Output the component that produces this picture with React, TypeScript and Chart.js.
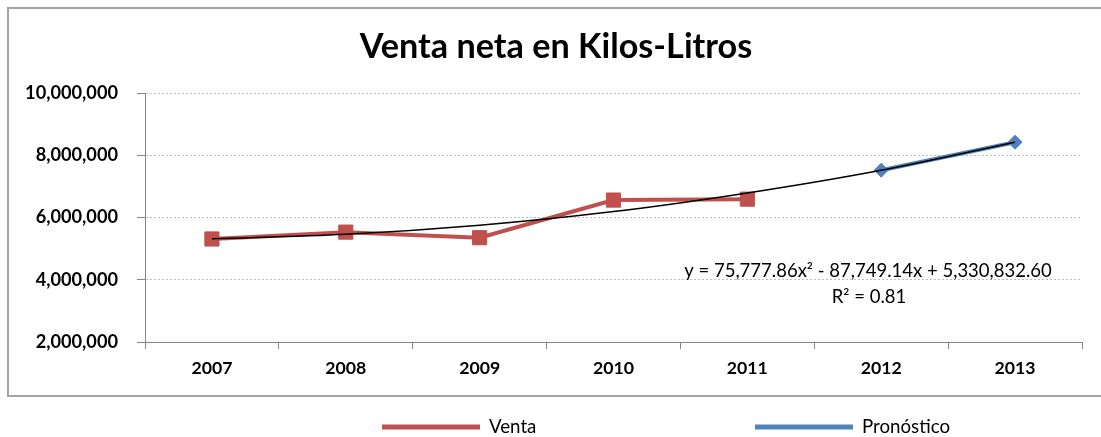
import React, { useEffect, useRef } from 'react';
import { Chart, registerables } from 'chart.js';

Chart.register(...registerables);

// ---- data ----
const years = ['2007', '2008', '2009', '2010', '2011', '2012', '2013'];
const venta = [5310000, 5530000, 5350000, 6560000, 6590000, null, null];
const pronostico = [null, null, null, null, null, 7520000, 8420000];
const tendencia = [5320000, 5460000, 5750000, 6190000, 6790000, 7520000, 8420000];
const yTicks = [2000000, 4000000, 6000000, 8000000, 10000000];
const titleText = 'Venta neta en Kilos-Litros';
const equationText = 'y = 75,777.86x² - 87,749.14x + 5,330,832.60';
const r2Text = 'R² = 0.81';
const legendLabels = ['Venta', 'Pronóstico'];

const FAMILY = 'Lato, "DejaVu Sans", sans-serif';

function fit(text: string, weight: string, target: number): number {
  const c = document.createElement('canvas').getContext('2d')!;
  c.font = `${weight} 100px ${FAMILY}`;
  const w = c.measureText(text).width;
  return Math.round((target / w) * 1000) / 10;
}

export default function App() {
  const ref = useRef<HTMLCanvasElement>(null);

  useEffect(() => {
    const canvas = ref.current!;
    const yFont = fit('10,000,000', 'bold', 93);
    const xFont = fit('2007', 'bold', 41);
    const titleFont = fit(titleText, 'bold', 392);
    const eqFont = fit(equationText, 'normal', 367);
    const legFont = fit('Pronóstico', 'normal', 88);

    const decor = {
      id: 'decor',
      beforeDraw(chart: any) {
        const ctx = chart.ctx;
        ctx.save();
        ctx.fillStyle = '#ffffff';
        ctx.fillRect(0, 0, chart.width, chart.height);
        ctx.restore();
      },
      afterDraw(chart: any) {
        const ctx = chart.ctx;
        ctx.save();
        // outer frame
        ctx.strokeStyle = '#a3a3a3';
        ctx.lineWidth = 2;
        ctx.strokeRect(8, 8, 1110, 388);
        // title
        ctx.fillStyle = '#000000';
        ctx.textAlign = 'center';
        ctx.textBaseline = 'alphabetic';
        ctx.font = `bold ${titleFont}px ${FAMILY}`;
        ctx.fillText(titleText, 556, 58);
        // trendline equation
        ctx.font = `normal ${eqFont}px ${FAMILY}`;
        ctx.fillText(equationText, 868, 277);
        ctx.fillText(r2Text, 869, 303);
        // legend
        const ds = chart.data.datasets;
        const items = [
          { ds: ds[1], x: 382 },
          { ds: ds[2], x: 755 },
        ];
        ctx.textAlign = 'left';
        ctx.font = `normal ${legFont}px ${FAMILY}`;
        items.forEach((it, i) => {
          ctx.strokeStyle = it.ds.borderColor;
          ctx.lineWidth = 5;
          ctx.lineCap = 'butt';
          ctx.beginPath();
          ctx.moveTo(it.x, 427);
          ctx.lineTo(it.x + 98, 427);
          ctx.stroke();
          ctx.fillStyle = '#000000';
          ctx.fillText(legendLabels[i], it.x + 107, 433);
        });
        ctx.restore();
      },
    };

    const chart = new Chart(canvas, {
      type: 'line',
      data: {
        labels: years,
        datasets: [
          {
            label: 'Tendencia',
            data: tendencia,
            borderColor: '#000000',
            borderWidth: 1.5,
            pointRadius: 0,
            cubicInterpolationMode: 'monotone',
            order: 0,
          },
          {
            label: 'Venta',
            data: venta,
            borderColor: '#C0504D',
            backgroundColor: '#C0504D',
            borderWidth: 4,
            pointStyle: 'rect',
            pointRadius: 10,
            pointBorderWidth: 1,
            order: 1,
          },
          {
            label: 'Pronóstico',
            data: pronostico,
            borderColor: '#4F81BD',
            backgroundColor: '#4F81BD',
            borderWidth: 4,
            pointStyle: 'rectRot',
            pointRadius: 7,
            pointBorderWidth: 1,
            order: 2,
          },
        ],
      },
      options: {
        responsive: false,
        animation: false,
        layout: { padding: { top: 93, right: 19, bottom: 0, left: 0 } },
        plugins: {
          legend: { display: false },
          title: { display: false },
          tooltip: { enabled: false },
        },
        scales: {
          x: {
            offset: true,
            grid: {
              offset: true,
              drawOnChartArea: false,
              drawTicks: true,
              tickLength: 7,
              tickColor: '#868686',
              tickWidth: 1,
            },
            border: { color: '#868686', width: 1 },
            ticks: {
              font: { family: FAMILY, weight: 'bold', size: xFont },
              color: '#000000',
              padding: 9,
              maxRotation: 0,
              autoSkip: false,
            },
            afterFit: (s: any) => {
              s.height = 95;
            },
          },
          y: {
            min: 2000000,
            max: 10000000,
            afterBuildTicks: (s: any) => {
              s.ticks = yTicks.map((v) => ({ value: v }));
            },
            grid: {
              color: '#bdbdbd',
              lineWidth: 1,
              tickLength: 8,
              tickColor: '#868686',
              tickWidth: 1,
            },
            border: { color: '#868686', width: 1, dash: [2, 2] },
            ticks: {
              font: { family: FAMILY, weight: 'bold', size: yFont },
              color: '#000000',
              padding: 19,
              callback: (v: any) => Number(v).toLocaleString('en-US'),
            },
            afterFit: (s: any) => {
              s.width = 145;
            },
          },
        },
      },
      plugins: [decor],
    } as any);

    return () => chart.destroy();
  }, []);

  return (
    <div style={{ position: 'absolute', left: 0, top: 0, width: 1101, height: 437, background: '#fff' }}>
      <canvas ref={ref} width={1101} height={437} style={{ display: 'block', width: 1101, height: 437 }} />
    </div>
  );
}
